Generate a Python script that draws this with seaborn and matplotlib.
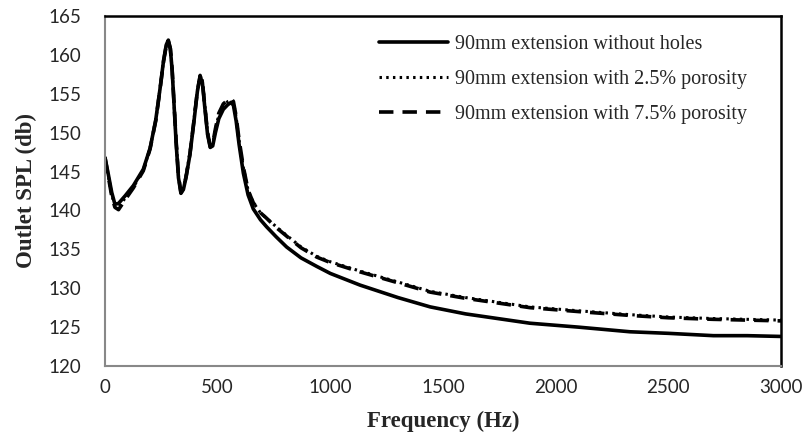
import numpy as np
import pandas as pd
import matplotlib
matplotlib.use("Agg")
import matplotlib.pyplot as plt
import seaborn as sns

freq = [0, 15, 30, 44, 60, 90, 126, 170, 200, 225, 244, 260, 272, 281, 290, 298, 306, 316,
        326, 337, 348, 360, 377, 395, 410, 422, 432, 442, 455, 467, 478, 490, 505, 525,
        545, 560, 570, 582, 595, 614, 635, 658, 690, 717, 760, 806, 870, 940, 1000,
        1132, 1300, 1443, 1600, 1886, 2100, 2330, 2500, 2700, 2850, 3000]

spl_no_holes = [146.8, 144.6, 142.3, 140.8, 140.9, 141.9, 143.2, 145.3, 148.0, 151.6, 155.6,
                159.3, 161.3, 161.9, 160.8, 158.0, 153.8, 148.5, 144.2, 142.2, 142.7, 144.3,
                147.2, 151.5, 155.3, 157.2, 156.5, 153.5, 149.8, 148.1, 148.3, 150.0, 151.8,
                153.0, 153.6, 153.9, 153.5, 151.5, 148.5, 144.8, 142.0, 140.2, 138.8, 137.9,
                136.6, 135.3, 133.9, 132.8, 131.9, 130.4, 128.8, 127.6, 126.7, 125.5, 125.0,
                124.4, 124.2, 123.9, 123.9, 123.8]

spl_p25 = [146.8, 144.4, 142.0, 140.6, 140.5, 141.6, 143.0, 145.2, 148.0, 151.6, 155.6,
           159.3, 161.2, 161.8, 160.8, 158.1, 154.0, 148.8, 144.5, 142.4, 142.9, 144.5,
           147.4, 151.7, 155.5, 157.4, 156.7, 153.8, 150.1, 148.3, 148.6, 150.4, 152.3,
           153.5, 154.0, 154.2, 153.9, 152.0, 149.0, 145.5, 142.6, 141.0, 139.7, 139.0,
           137.9, 136.8, 135.3, 134.1, 133.4, 132.2, 130.8, 129.6, 128.8, 127.6, 127.1,
           126.6, 126.3, 126.1, 126.0, 125.9]

spl_p75 = [146.8, 144.3, 141.8, 140.4, 140.1, 141.4, 142.9, 145.1, 147.9, 151.5, 155.5,
           159.2, 161.2, 161.8, 160.8, 158.1, 154.0, 148.8, 144.5, 142.3, 142.8, 144.4,
           147.3, 151.6, 155.4, 157.3, 156.6, 153.7, 150.0, 148.2, 148.6, 150.5, 152.5,
           153.7, 154.2, 154.4, 154.0, 152.1, 149.1, 145.6, 142.6, 141.0, 139.7, 139.0,
           137.8, 136.7, 135.2, 134.0, 133.3, 132.1, 130.7, 129.5, 128.7, 127.5, 127.0,
           126.5, 126.2, 126.0, 125.9, 125.8]

labels = ["90mm extension without holes",
          "90mm extension with 2.5% porosity",
          "90mm extension with 7.5% porosity"]

x_ticks = [0, 500, 1000, 1500, 2000, 2500, 3000]
y_ticks = [120, 125, 130, 135, 140, 145, 150, 155, 160, 165]

df = pd.DataFrame({
    "Frequency": freq * 3,
    "SPL": spl_no_holes + spl_p25 + spl_p75,
    "Series": [labels[0]] * len(freq) + [labels[1]] * len(freq) + [labels[2]] * len(freq),
})

sns.set_theme(style="white")
plt.rcParams["font.family"] = ["Liberation Serif", "DejaVu Sans"]

fig = plt.figure(figsize=(8.08, 4.48), dpi=100)
ax = fig.add_axes([105 / 808, 1 - 366 / 448, 676 / 808, 350 / 448])

styles = [dict(linestyle="-", linewidth=2.6),
          dict(linestyle=(0, (0.8, 1.4)), linewidth=2.2),
          dict(linestyle=(0, (4, 2.5)), linewidth=2.6)]
for lab, st in zip(labels, styles):
    sns.lineplot(data=df[df["Series"] == lab], x="Frequency", y="SPL", ax=ax,
                 color="black", label=lab, **st)

ax.set_xlim(0, 3000)
ax.set_ylim(120, 165)
ax.set_xticks(x_ticks)
ax.set_yticks(y_ticks)
tick_font = dict(family=["Lato", "DejaVu Sans"], size=13.5)
ax.set_xticklabels([str(v) for v in x_ticks], **tick_font)
ax.set_yticklabels([str(v) for v in y_ticks], **tick_font)
ax.tick_params(axis="y", length=0, pad=17)
ax.tick_params(axis="x", length=0, pad=9)

ax.set_xlabel("Frequency (Hz)", fontsize=16.5, fontweight="bold", labelpad=11)
ax.set_ylabel("Outlet SPL (db)", fontsize=16.5, fontweight="bold", labelpad=8)

for side in ["left", "bottom"]:
    ax.spines[side].set_color("#888888")
    ax.spines[side].set_linewidth(1.5)
for side in ["top", "right"]:
    ax.spines[side].set_color("black")
    ax.spines[side].set_linewidth(1.8)

leg = ax.legend(loc="upper left", bbox_to_anchor=(266 / 676, 1 - 11 / 350), frameon=False,
                fontsize=14.5, handlelength=3.4, handletextpad=0.35, labelspacing=0.78,
                borderaxespad=0)

fig.savefig("out.png", dpi=100)
